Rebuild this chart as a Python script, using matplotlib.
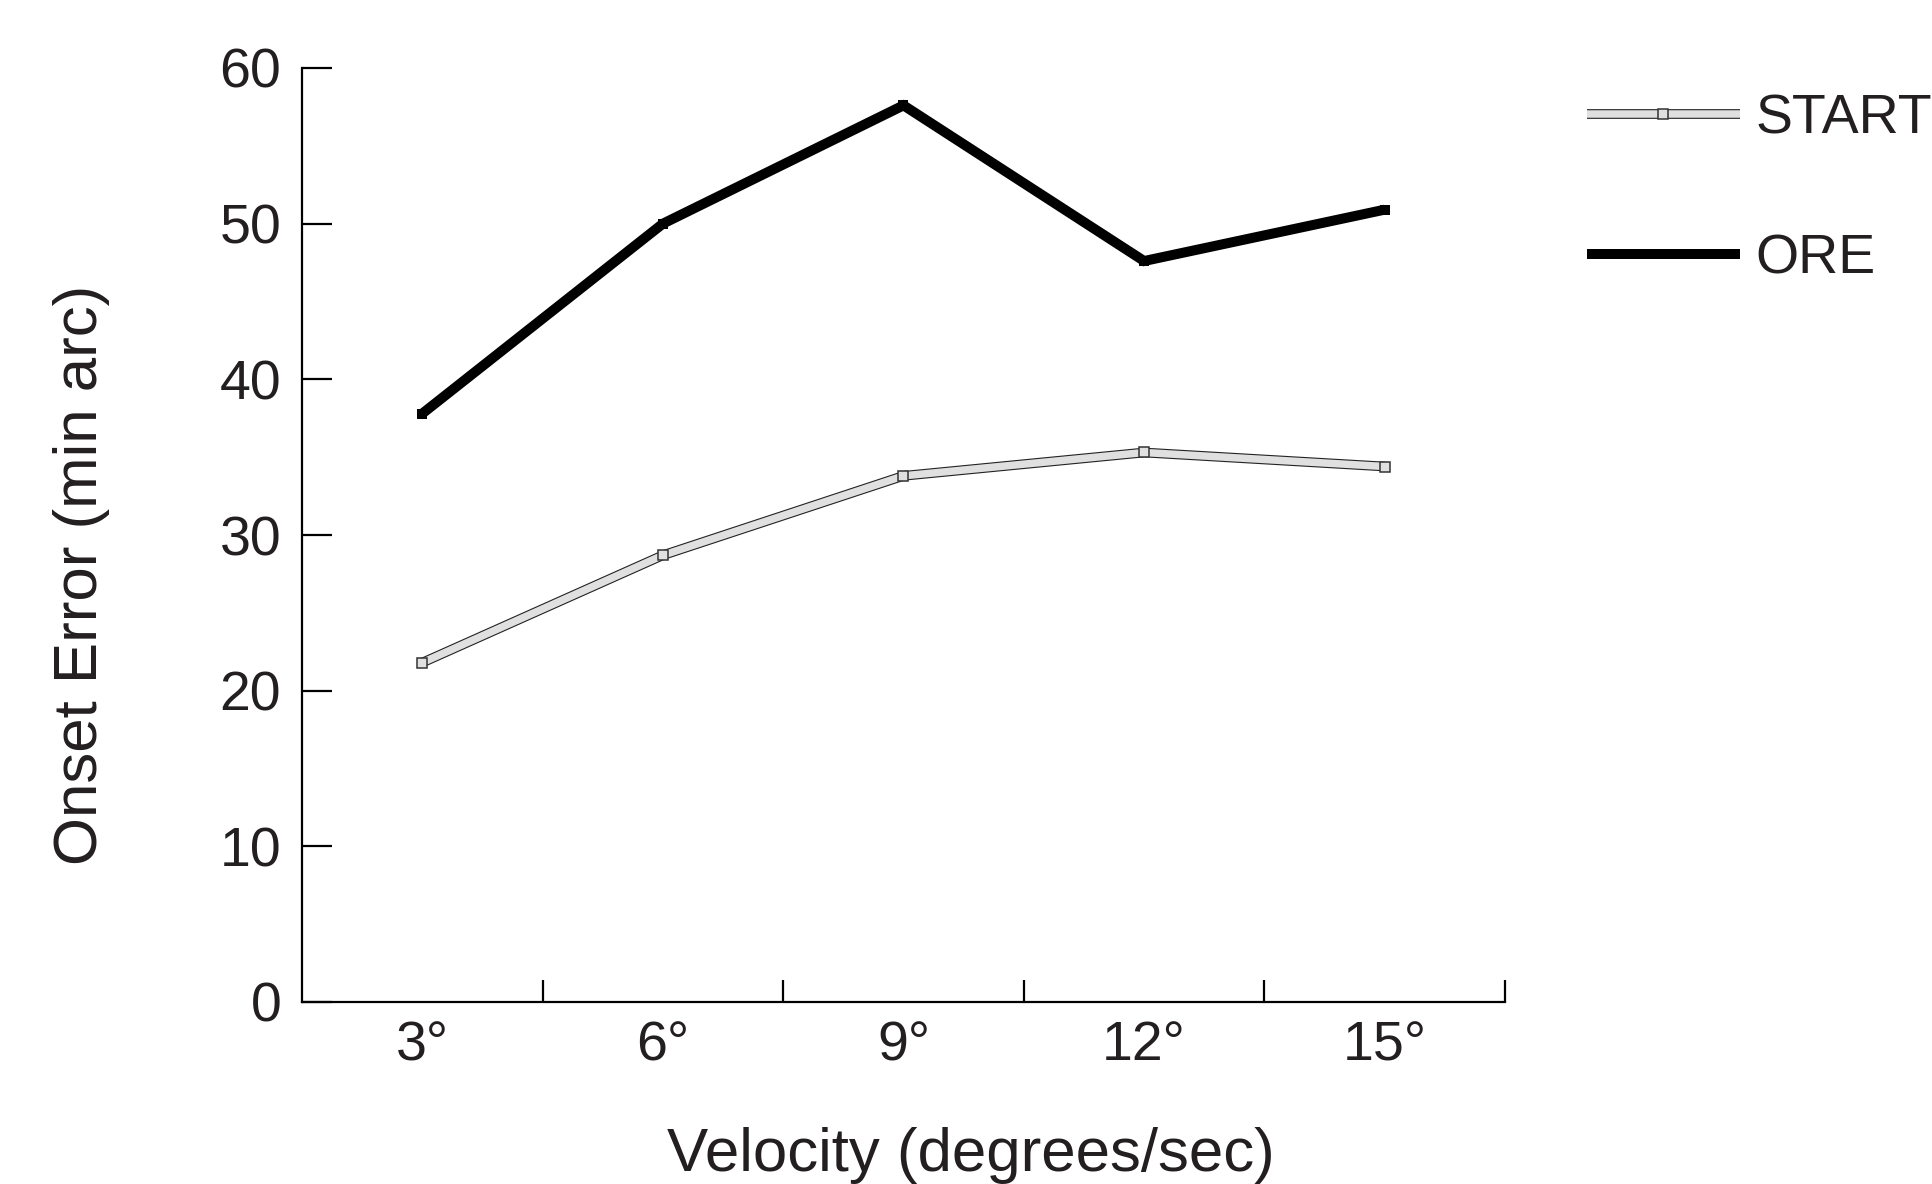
import matplotlib
matplotlib.use("Agg")
import matplotlib.pyplot as plt
import matplotlib.patheffects as pe
from matplotlib.legend_handler import HandlerTuple
import numpy as np

categories = ["3°", "6°", "9°", "12°", "15°"]
start_vals = [21.8, 28.7, 33.8, 35.3, 34.4]
ore_vals = [37.8, 50.0, 57.6, 47.6, 50.9]
y_ticks = [0, 10, 20, 30, 40, 50, 60]

TXT = "#231f20"
plt.rcParams['font.family'] = ['Liberation Sans', 'DejaVu Sans']

fig = plt.figure(figsize=(19.33, 11.84), dpi=100)
ax = fig.add_axes([302/1933, 1 - 1002/1184, (1505-302)/1933, (1002-68)/1184])

x = np.arange(len(categories)) + 0.5

ore_line, = ax.plot(x, ore_vals, color="black", lw=7.2, solid_capstyle="butt",
                    solid_joinstyle="miter", marker="s", ms=7.2, mfc="black",
                    mec="black", mew=0, zorder=3)
start_line, = ax.plot(x, start_vals, color="#e0e0e0", lw=5.4, zorder=3,
                      solid_joinstyle="miter", solid_capstyle="butt",
                      path_effects=[pe.Stroke(linewidth=7.0, foreground="#222222"), pe.Normal()])
start_mk, = ax.plot(x, start_vals, ls="none", marker="s", ms=7.0, mfc="#e0e0e0",
                    mec="#333333", mew=1.1, zorder=4)

ax.set_xlim(0, 5)
ax.set_ylim(0, 60)
for s in ["top", "right"]:
    ax.spines[s].set_visible(False)
for s in ["left", "bottom"]:
    ax.spines[s].set_linewidth(1.6)
    ax.spines[s].set_color("black")

ax.set_yticks(y_ticks)
ax.set_yticklabels([str(v) for v in y_ticks])
ax.tick_params(axis="y", direction="in", length=21.6, width=1.6, pad=15,
               labelsize=40, labelcolor=TXT)

ax.set_xticks([1, 2, 3, 4, 5])
ax.set_xticklabels([])
ax.set_xticks(x, minor=True)
ax.set_xticklabels(categories, minor=True)
ax.tick_params(axis="x", which="major", direction="in", length=16, width=1.6)
ax.tick_params(axis="x", which="minor", length=0, pad=13, labelsize=40, labelcolor=TXT)

fig.text(971/1933, 1 - 1156/1184, "Velocity (degrees/sec)", ha="center", va="center",
         fontsize=44.5, color=TXT)
fig.text(82/1933, 1 - 575/1184, "Onset Error (min arc)", ha="center", va="center",
         rotation=90, fontsize=44.5, color=TXT)

leg = ax.legend([(start_line, start_mk), ore_line], ["START", "ORE"],
                handler_map={tuple: HandlerTuple(ndivide=1)},
                loc="upper left", bbox_to_anchor=(1587/1933, 1 - 93/1184),
                bbox_transform=fig.transFigure, frameon=False, fontsize=40,
                handlelength=2.75, handletextpad=0.28, labelspacing=1.6,
                borderpad=0, borderaxespad=0, labelcolor=TXT)

fig.savefig("out.png", dpi=100)
